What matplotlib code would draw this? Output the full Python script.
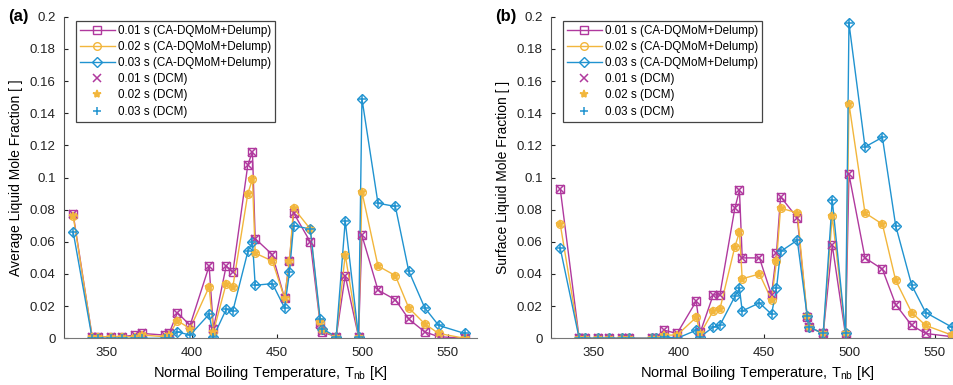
import matplotlib.pyplot as plt
import numpy as np

plt.rcParams['font.family'] = ['Liberation Sans', 'DejaVu Sans']

# Normale Siedetemperaturen der Komponenten [K]
Tnb = [330.4, 341.5, 344.7, 352.5, 359.2, 366.6, 370.9, 384.2, 386.6, 391.5,
       398.9, 410.1, 412.6, 420.1, 424.0, 432.8, 435.5, 437.1, 447.2, 454.3,
       457.2, 459.6, 469.4, 475.2, 476.2, 484.6, 489.9, 497.7, 499.7, 509.1,
       519.3, 527.1, 536.5, 544.7, 560.0]

# (a) mittlerer Fluessigkeits-Molenbruch
avg01 = [0.077, 0.001, 0.001, 0.001, 0.001, 0.002, 0.003, 0.002, 0.003, 0.016,
         0.008, 0.045, 0.006, 0.045, 0.041, 0.108, 0.116, 0.062, 0.052, 0.025,
         0.048, 0.078, 0.060, 0.009, 0.004, 0.001, 0.039, 0.001, 0.064, 0.030,
         0.024, 0.012, 0.004, 0.001, 0.000]
avg02 = [0.076, 0.001, 0.001, 0.001, 0.001, 0.001, 0.002, 0.001, 0.002, 0.011,
         0.006, 0.032, 0.004, 0.034, 0.032, 0.090, 0.099, 0.053, 0.048, 0.025,
         0.048, 0.081, 0.068, 0.010, 0.005, 0.001, 0.052, 0.001, 0.091, 0.045,
         0.039, 0.019, 0.009, 0.003, 0.000]
avg03 = [0.066, 0.000, 0.000, 0.000, 0.000, 0.000, 0.000, 0.000, 0.000, 0.004,
         0.002, 0.015, 0.001, 0.018, 0.017, 0.054, 0.060, 0.033, 0.034, 0.019,
         0.041, 0.070, 0.068, 0.012, 0.006, 0.001, 0.073, 0.001, 0.149, 0.084,
         0.082, 0.042, 0.019, 0.008, 0.003]

# (b) Oberflaechen-Molenbruch
surf01 = [0.093, 0.000, 0.000, 0.000, 0.000, 0.000, 0.000, 0.000, 0.000, 0.005,
          0.003, 0.023, 0.004, 0.027, 0.027, 0.081, 0.092, 0.050, 0.050, 0.027,
          0.053, 0.088, 0.075, 0.013, 0.007, 0.003, 0.058, 0.002, 0.102, 0.050,
          0.043, 0.021, 0.008, 0.003, 0.001]
surf02 = [0.071, 0.000, 0.000, 0.000, 0.000, 0.000, 0.000, 0.000, 0.000, 0.002,
          0.002, 0.013, 0.003, 0.017, 0.018, 0.057, 0.066, 0.037, 0.040, 0.024,
          0.048, 0.081, 0.078, 0.014, 0.007, 0.003, 0.076, 0.003, 0.146, 0.078,
          0.071, 0.036, 0.016, 0.008, 0.002]
surf03 = [0.056, 0.000, 0.000, 0.000, 0.000, 0.000, 0.000, 0.000, 0.000, 0.001,
          0.000, 0.005, 0.001, 0.007, 0.008, 0.026, 0.031, 0.017, 0.022, 0.015,
          0.031, 0.054, 0.061, 0.014, 0.007, 0.003, 0.086, 0.003, 0.196, 0.119,
          0.125, 0.070, 0.033, 0.016, 0.007]

cols = ['#B0399E', '#F2B63C', '#2093D0']
times = ['0.01 s', '0.02 s', '0.03 s']
mk = ['s', 'o', 'D']
mkDCM = ['x', '*', '+']

yticks = [0, 0.02, 0.04, 0.06, 0.08, 0.1, 0.12, 0.14, 0.16, 0.18, 0.2]
ytl = ['0', '0.02', '0.04', '0.06', '0.08', '0.1', '0.12', '0.14', '0.16', '0.18', '0.2']

fig = plt.figure(figsize=(9.54, 3.85), dpi=100)
axA = fig.add_axes([0.0671, 0.1213, 0.4326, 0.8353])
axB = fig.add_axes([0.5776, 0.1213, 0.4326, 0.8353])

panels = [(axA, [avg01, avg02, avg03], 'Average Liquid Mole Fraction [ ]', '(a)'),
          (axB, [surf01, surf02, surf03], 'Surface Liquid Mole Fraction [ ]', '(b)')]

for ax, data, ylab, tag in panels:
    for i in range(3):
        ax.plot(Tnb, data[i], color=cols[i], lw=1.0, marker=mk[i], ms=5.5 if mk[i] != 'D' else 5,
                mfc='none', mew=1.0, label=times[i] + ' (CA-DQMoM+Delump)')
    for i in range(3):
        ax.plot(Tnb, data[i], ls='none', color=cols[i], marker=mkDCM[i], ms=6, mew=1.1,
                label=times[i] + ' (DCM)')
    ax.set_xlim(325, 567)
    ax.set_ylim(0, 0.2)
    ax.set_xticks([350, 400, 450, 500, 550])
    ax.set_yticks(yticks)
    ax.set_yticklabels(ytl)
    ax.tick_params(direction='in', length=3, labelsize=9.5, colors='#222222', pad=6)
    ax.spines['top'].set_visible(False)
    ax.spines['right'].set_visible(False)
    ax.spines['left'].set_color('#555555')
    ax.spines['bottom'].set_color('#777777')
    ax.set_xlabel('Normal Boiling Temperature, T$_{\\mathregular{nb}}$ [K]', fontsize=10.5, labelpad=4)
    ax.set_ylabel(ylab, fontsize=10, labelpad=5)
    leg = ax.legend(loc='upper left', bbox_to_anchor=(0.028, 0.988), fontsize=8.4,
                    fancybox=False, framealpha=1, edgecolor='#444444', handlelength=3.0,
                    labelspacing=0.36, borderpad=0.35, handletextpad=0.3, borderaxespad=0)
    leg.get_frame().set_linewidth(0.9)
    ax.text(-0.135, 1.0, tag, transform=ax.transAxes, fontsize=12, fontweight='bold',
            va='center', ha='left')

plt.savefig('out.png', dpi=100)
